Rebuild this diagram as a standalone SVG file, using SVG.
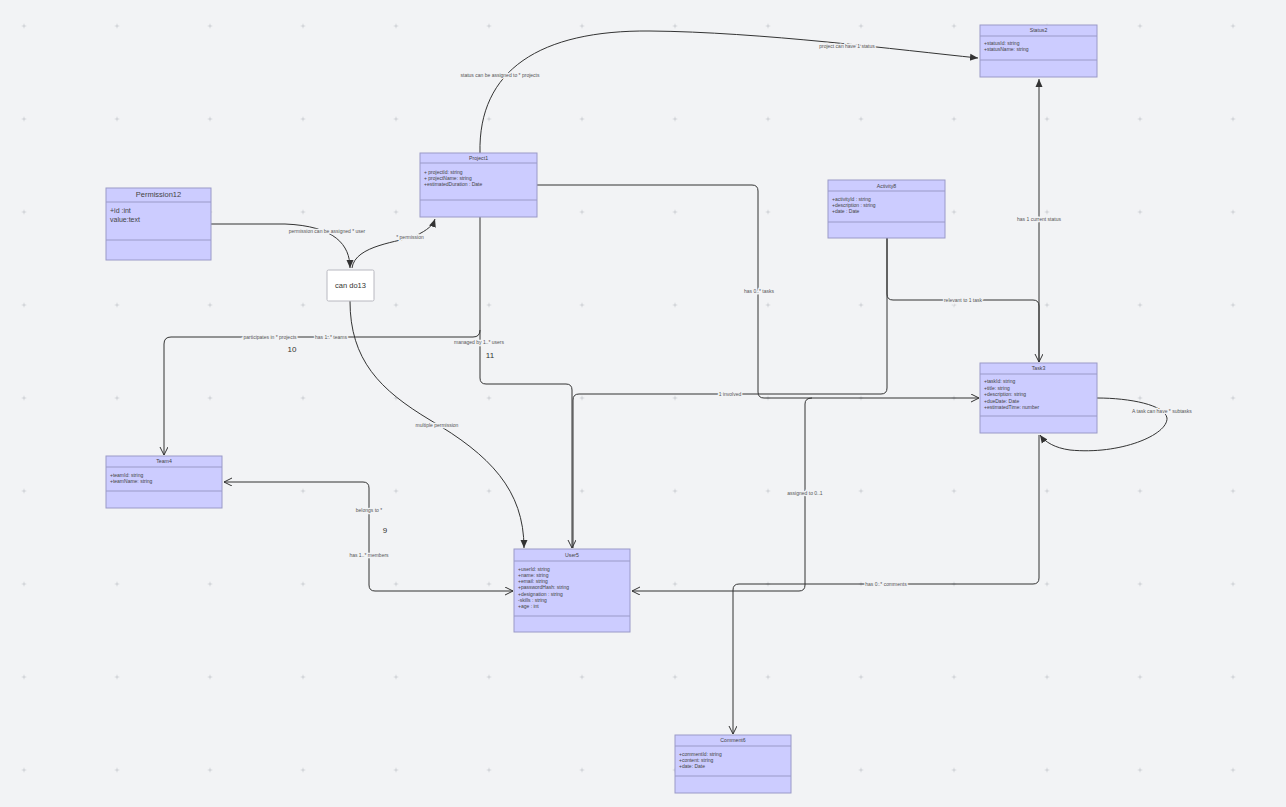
<svg xmlns="http://www.w3.org/2000/svg" width="1286" height="807" viewBox="0 0 1286 807">
<defs>
<style>
.box{fill:#ccccff;stroke:#9a9ac8;stroke-width:1}
.sep{stroke:#9a9ac8;stroke-width:1}
.t{font-family:"Liberation Sans",Arial,sans-serif;font-size:5px;fill:#444}
.tt{font-family:"Liberation Sans",Arial,sans-serif;font-size:5.2px;fill:#444;text-anchor:middle}
.lbl{font-family:"Liberation Sans",Arial,sans-serif;font-size:5px;fill:#555;text-anchor:middle;stroke:#f2f3f5;stroke-width:2.5;paint-order:stroke}
.num{font-family:"Liberation Sans",Arial,sans-serif;font-size:8px;fill:#333;text-anchor:middle}
.c{fill:none;stroke:#333;stroke-width:1}
</style>
<marker id="open" markerWidth="10" markerHeight="10" refX="8" refY="4" orient="auto-start-reverse" markerUnits="userSpaceOnUse">
<path d="M0,0 L8,4 L0,8" fill="none" stroke="#333" stroke-width="1"/>
</marker>
<marker id="fill" markerWidth="10" markerHeight="10" refX="8" refY="4" orient="auto-start-reverse" markerUnits="userSpaceOnUse">
<path d="M0,0.5 L8,4 L0,7.5 z" fill="#333"/>
</marker>
<pattern id="grid" x="-22.5" y="-20.5" width="93" height="93" patternUnits="userSpaceOnUse">
<path d="M44.5,46.5 H48.5 M46.5,44.5 V48.5" stroke="#c4c6cc" stroke-width="0.8"/>
</pattern>
</defs>
<rect width="1286" height="807" fill="#f2f3f5"/>
<rect width="1286" height="807" fill="url(#grid)"/>

<g id="connectors">
<path class="c" d="M480,153 C478,70 540,30 650,31 C760,32 900,50 978,58" marker-end="url(#fill)"/>
<path class="c" d="M211,224 L285,224 C335,226 350,245 350,268" marker-end="url(#fill)"/>
<path class="c" d="M352,268 C355,245 400,242 415,236 C428,230 433,225 435,219" marker-end="url(#fill)"/>
<path class="c" d="M350,301 C350,360 380,390 430,420 C490,455 524,490 524,548" marker-end="url(#fill)"/>
<path class="c" d="M480,217 L480,330 Q480,337 473,337 L171,337 Q164,337 164,344 L164,455" marker-end="url(#open)"/>
<path class="c" d="M480,330 L480,378 Q480,384 486,384 L566,384 Q572,384 572,390 L572,548" marker-end="url(#open)"/>
<path class="c" d="M537,185 L752,185 Q758,185 758,191 L758,392 Q758,398 764,398 L979,398" marker-end="url(#open)"/>
<path class="c" d="M887,238 L887,294 Q887,300 893,300 L1033,300 Q1039,300 1039,306 L1039,362" marker-end="url(#open)"/>
<path class="c" d="M887,238 L887,388 Q887,394 881,394 L579,394 Q573,394 573,400 L573,548"/>
<path class="c" d="M1039,79 L1039,362" marker-start="url(#fill)"/>
<path class="c" d="M812,398 Q805,398 805,404 L805,585 Q805,591 799,591 L632,591" marker-end="url(#open)"/>
<path class="c" d="M1039,435 L1039,578 Q1039,584 1033,584 L739,584 Q733,584 733,590 L733,734" marker-end="url(#open)"/>
<path class="c" d="M1097,398 C1130,398 1165,405 1167,418 C1168,435 1120,455 1070,450 C1055,448 1045,442 1040,435" marker-end="url(#fill)"/>
<path class="c" d="M224,482 L363,482 Q369,482 369,488 L369,585 Q369,591 375,591 L513,591" marker-start="url(#open)" marker-end="url(#open)"/>

<text class="lbl" x="500" y="77">status can be assigned to * projects</text>
<text class="lbl" x="847" y="48">project can have 1 status</text>
<text class="lbl" x="327" y="233">permission can be assigned * user</text>
<text class="lbl" x="410" y="239">* permission</text>
<text class="lbl" x="270" y="339">participates in * projects</text>
<text class="lbl" x="331" y="339">has 1..* teams</text>
<text class="num" x="292" y="352">10</text>
<text class="lbl" x="479" y="344">managed by 1..* users</text>
<text class="num" x="490" y="358">11</text>
<text class="lbl" x="437" y="427">multiple permission</text>
<text class="lbl" x="369" y="512">belongs to *</text>
<text class="num" x="385" y="533">9</text>
<text class="lbl" x="369" y="557">has 1..* members</text>
<text class="lbl" x="759" y="293">has 0..* tasks</text>
<text class="lbl" x="1039" y="221">has 1 current status</text>
<text class="lbl" x="963" y="302">relevant to 1 task</text>
<text class="lbl" x="730" y="396">1 involved</text>
<text class="lbl" x="805" y="495">assigned to 0..1</text>
<text class="lbl" x="886" y="586">has 0..* comments</text>
<text class="lbl" x="1162" y="413">A task can have * subtasks</text>
</g>

<g id="status">
<rect class="box" x="980" y="25" width="117" height="52"/>
<line class="sep" x1="980" y1="36" x2="1097" y2="36"/>
<line class="sep" x1="980" y1="60" x2="1097" y2="60"/>
<text class="tt" x="1038.5" y="32">Status2</text>
<text class="t" x="984" y="45">+statusId: string</text>
<text class="t" x="984" y="51">+statusName: string</text>
</g>

<g id="project">
<rect class="box" x="420" y="153" width="117" height="64"/>
<line class="sep" x1="420" y1="163" x2="537" y2="163"/>
<line class="sep" x1="420" y1="200" x2="537" y2="200"/>
<text class="tt" x="478.5" y="160">Project1</text>
<text class="t" x="424" y="174">+ projectId: string</text>
<text class="t" x="424" y="180">+ projectName: string</text>
<text class="t" x="424" y="186">+estimatedDuration : Date</text>
</g>

<g id="permission12">
<rect class="box" x="106" y="188" width="105" height="72"/>
<line class="sep" x1="106" y1="202" x2="211" y2="202"/>
<line class="sep" x1="106" y1="240" x2="211" y2="240"/>
<text class="tt" x="158.5" y="197" style="font-size:7.5px">Permission12</text>
<text class="t" x="110" y="213" style="font-size:7px">+id :int</text>
<text class="t" x="110" y="222" style="font-size:7px">value:text</text>
</g>

<g id="activity">
<rect class="box" x="828" y="180" width="117" height="58"/>
<line class="sep" x1="828" y1="191" x2="945" y2="191"/>
<line class="sep" x1="828" y1="222" x2="945" y2="222"/>
<text class="tt" x="886.5" y="188">Activity8</text>
<text class="t" x="832" y="201">+activityId : string</text>
<text class="t" x="832" y="207">+description : string</text>
<text class="t" x="832" y="213">+date : Date</text>
</g>

<g id="task">
<rect class="box" x="980" y="363" width="117" height="70"/>
<line class="sep" x1="980" y1="374" x2="1097" y2="374"/>
<line class="sep" x1="980" y1="416" x2="1097" y2="416"/>
<text class="tt" x="1038.5" y="370">Task3</text>
<text class="t" x="984" y="383">+taskId: string</text>
<text class="t" x="984" y="390">+title: string</text>
<text class="t" x="984" y="396">+description: string</text>
<text class="t" x="984" y="403">+dueDate: Date</text>
<text class="t" x="984" y="409">+estimatedTime: number</text>
</g>

<g id="can-do13">
<rect x="327" y="270" width="47" height="31" rx="1.5" fill="#ffffff" stroke="#b8b8c0" stroke-width="1"/>
<text class="tt" x="350.5" y="288" style="font-size:7.5px;fill:#333">can do13</text>
</g>

<g id="team">
<rect class="box" x="106" y="456" width="116" height="52"/>
<line class="sep" x1="106" y1="467" x2="222" y2="467"/>
<line class="sep" x1="106" y1="491" x2="222" y2="491"/>
<text class="tt" x="164" y="463">Team4</text>
<text class="t" x="110" y="477">+teamId: string</text>
<text class="t" x="110" y="483">+teamName: string</text>
</g>

<g id="user">
<rect class="box" x="514" y="549" width="116" height="83"/>
<line class="sep" x1="514" y1="561" x2="630" y2="561"/>
<line class="sep" x1="514" y1="616" x2="630" y2="616"/>
<text class="tt" x="572" y="557">User5</text>
<text class="t" x="518" y="571">+userId: string</text>
<text class="t" x="518" y="577">+name: string</text>
<text class="t" x="518" y="583">+email: string</text>
<text class="t" x="518" y="589">+passwordHash: string</text>
<text class="t" x="518" y="596">+designation : string</text>
<text class="t" x="518" y="602">-skills : string</text>
<text class="t" x="518" y="608">+age : int</text>
</g>

<g id="comment">
<rect class="box" x="675" y="735" width="116" height="58"/>
<line class="sep" x1="675" y1="746" x2="791" y2="746"/>
<line class="sep" x1="675" y1="776" x2="791" y2="776"/>
<text class="tt" x="733" y="742">Comment6</text>
<text class="t" x="679" y="756">+commentId: string</text>
<text class="t" x="679" y="762">+content: string</text>
<text class="t" x="679" y="768">+date: Date</text>
</g>
</svg>
